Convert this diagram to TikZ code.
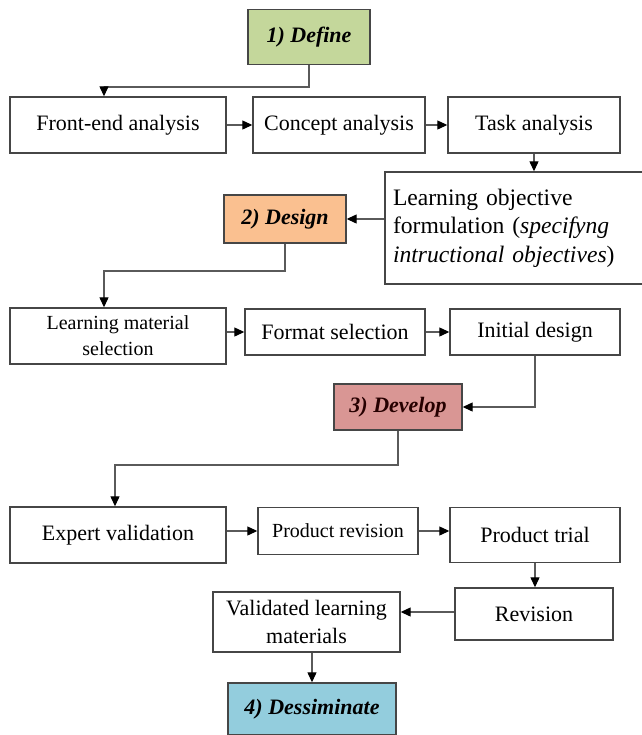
\documentclass[tikz,border=0pt]{standalone}
\usepackage{fontspec}
\setmainfont{Liberation Serif}
\usetikzlibrary{arrows.meta}
\definecolor{definegreen}{RGB}{196,215,155}
\definecolor{designorange}{RGB}{250,192,144}
\definecolor{developred}{RGB}{217,150,148}
\definecolor{dessblue}{RGB}{147,205,221}
\definecolor{boxline}{RGB}{70,70,70}
\definecolor{arrowline}{RGB}{90,90,90}

\begin{document}
\begin{tikzpicture}[x=0.5pt, y=-0.5pt,
	every node/.style={draw=boxline, line width=0.7pt, rectangle, inner sep=0pt, font=\fontsize{11}{14}\selectfont},
	phase/.style={font=\fontsize{11}{14}\selectfont\bfseries\itshape},
	link/.style={draw=arrowline, line width=0.6pt, -{Triangle[length=5pt,width=4.5pt,color=black]}}]
			\useasboundingbox (0,0) rectangle (642,735);
			% 1) Define
			\node[phase, fill=definegreen, minimum width=61pt, minimum height=27.5pt](define) at (309, 37) {1) Define};
			\node[minimum width=108pt, minimum height=28pt](frontend) at (118, 125) {Front-end analysis};
			\node[minimum width=86pt, minimum height=28pt](concept) at (339, 125) {Concept analysis};
			\node[minimum width=86pt, minimum height=28pt](task) at (534, 125) {Task analysis};
			\node[minimum width=129pt, minimum height=56pt, text width=121pt, inner xsep=4pt, align=left, font=\fontsize{11.8}{14.2}\selectfont](objective) at (514, 228) {Learning objective\\formulation (\textit{specifyng}\\\textit{intructional objectives})};
			% 2) Design
			\node[phase, fill=designorange, minimum width=61pt, minimum height=24pt](design) at (285, 219) {2) Design};
			\node[minimum width=108pt, minimum height=28pt, align=center, font=\fontsize{10}{13}\selectfont](material) at (118, 336) {Learning material\\selection};
			\node[minimum width=90pt, minimum height=23pt](format) at (335, 332) {Format selection};
			\node[minimum width=85pt, minimum height=23pt](initial) at (535, 332) {Initial design};
			% 3) Develop
			\node[phase, fill=developred, text=black!85!red, minimum width=64pt, minimum height=23pt](develop) at (398, 407) {3) Develop};
			\node[minimum width=108pt, minimum height=28pt](expert) at (118, 535) {Expert validation};
			\node[minimum width=80pt, minimum height=23.5pt, font=\fontsize{10}{13}\selectfont](prodrev) at (338, 531) {Product revision};
			\node[minimum width=85pt, minimum height=27.5pt](trial) at (535, 535) {Product trial};
			\node[minimum width=79pt, minimum height=26pt](revision) at (534, 614) {Revision};
			\node[minimum width=93.5pt, minimum height=30pt, align=center](validated) at (306.5, 622) {Validated learning\\materials};
			% 4) Dessiminate
			\node[phase, fill=dessblue, minimum width=84pt, minimum height=26pt](dessiminate) at (312, 709) {4) Dessiminate};
			\draw[link](define.south) |- (104, 87) -- (frontend.north -| 104, 0);
			\draw[link](frontend) -- (concept);
			\draw[link](concept) -- (task);
			\draw[link](task) -- (objective.north -| task);
			\draw[link](objective.west |- design) -- (design.east);
			\draw[link](design.south) |- (104, 271) -- (material.north -| 104, 0);
			\draw[link](material.east |- format) -- (format.west);
			\draw[link](format) -- (initial);
			\draw[link](initial.south) |- (develop.east);
			\draw[link](develop.south) |- (115, 465) -- (expert.north -| 115, 0);
			\draw[link](expert.east |- prodrev) -- (prodrev.west);
			\draw[link](prodrev.east) -- (trial.west |- prodrev);
			\draw[link](trial.south) -- (revision.north -| trial.south);
			\draw[link](revision.west |- 0, 612) -- (validated.east |- 0, 612);
			\draw[link](validated.south -| dessiminate) -- (dessiminate.north);
		\end{tikzpicture}
\end{document}
